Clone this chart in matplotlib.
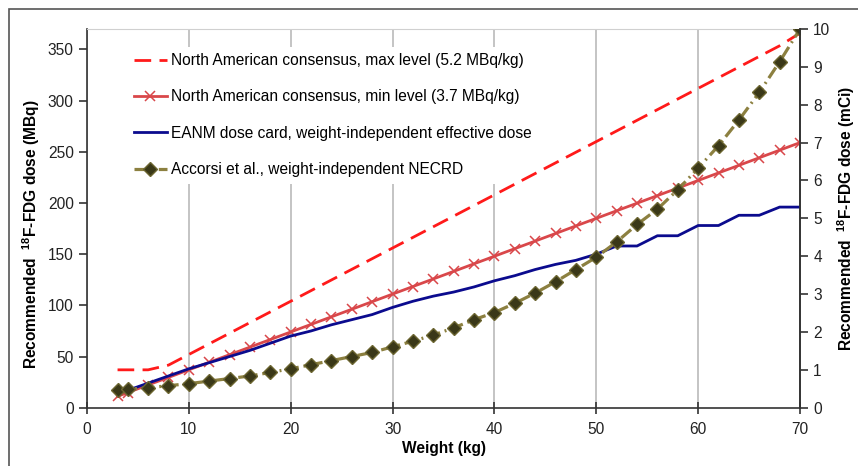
import matplotlib
matplotlib.use('Agg')
import matplotlib.pyplot as plt
from matplotlib.patches import Rectangle

plt.rcParams['font.family'] = ['Liberation Sans', 'DejaVu Sans']
plt.rcParams['mathtext.fontset'] = 'custom'
plt.rcParams['mathtext.rm'] = 'Liberation Sans'
plt.rcParams['mathtext.bf'] = 'Liberation Sans:bold'

# weights (kg)
weight = [3, 4, 6, 8, 10, 12, 14, 16, 18, 20, 22, 24, 26, 28, 30, 32, 34, 36,
          38, 40, 42, 44, 46, 48, 50, 52, 54, 56, 58, 60, 62, 64, 66, 68, 70]

# doses in MBq
na_max = [37, 37, 37, 41.6, 52, 62.4, 72.8, 83.2, 93.6, 104, 114.4, 124.8, 135.2,
          145.6, 156, 166.4, 176.8, 187.2, 197.6, 208, 218.4, 228.8, 239.2, 249.6,
          260, 270.4, 280.8, 291.2, 301.6, 312, 322.4, 332.8, 343.2, 353.6, 366]
na_min = [11.1, 14.8, 22.2, 29.6, 37, 44.4, 51.8, 59.2, 66.6, 74, 81.4, 88.8, 96.2,
          103.6, 111, 118.4, 125.8, 133.2, 140.6, 148, 155.4, 162.8, 170.2, 177.6,
          185, 192.4, 199.8, 207.2, 214.6, 222, 229.4, 236.8, 244.2, 251.6, 259]
eanm = [14, 17, 24, 31, 38, 44, 50, 56, 63, 70, 75, 81, 86, 91, 98, 104, 109, 113,
        118, 124, 129, 135, 140, 144, 150, 158, 158, 168, 168, 178, 178, 188, 188, 196, 196]
accorsi = [17, 18, 19.5, 21.5, 23.5, 26, 28.5, 31, 34.5, 38, 42, 46, 50, 54, 59.5,
           65, 71, 78, 86, 93, 102, 112, 123, 135, 147, 162, 179, 194, 213, 234, 256,
           281, 308, 338, 370]

labels = ['North American consensus, max level (5.2 MBq/kg)',
          'North American consensus, min level (3.7 MBq/kg)',
          'EANM dose card, weight-independent effective dose',
          'Accorsi et al., weight-independent NECRD']

fs = 11.2

fig = plt.figure(figsize=(8.58, 4.66), dpi=100)
ax = fig.add_axes([87/858, 1 - 407.7/466, (800-87)/858, (407.7-29)/466])

# outer frame
fig.patches.append(Rectangle((9/858, -0.1), 1.2, 0.1 + 1 - 9/466, transform=fig.transFigure,
                             fill=False, edgecolor='#555555', lw=1.2))

# lines drawn above the legend box, legend box only hides the grid
ax.plot(weight, na_max, color='#ff1a1a', lw=2, linestyle=(0, (6, 3)), label=labels[0], zorder=12)
ax.plot(weight, na_min, color='#d9474a', lw=2, marker='x', ms=7, mew=1.1, label=labels[1], zorder=12)
ax.plot(weight, eanm, color='#0b0b8e', lw=2, label=labels[2], zorder=12)
ax.plot(weight, accorsi, color='#8c8040', lw=2.3, linestyle=(0, (4, 1.5, 0.6, 1.5)),
        marker='D', ms=7, mfc='#3a3818', mec='#6b6530', mew=1, label=labels[3], zorder=13)

ax.set_xlim(0, 70)
ax.set_ylim(0, 370)
ax.set_xticks(range(0, 71, 10))
ax.set_yticks(range(0, 351, 50))
ax.grid(axis='x', color='#b4b4b4', lw=1.1)
ax.set_axisbelow(True)

for s in ['left', 'bottom', 'right']:
    ax.spines[s].set_color('#333333')
    ax.spines[s].set_linewidth(1.2)
ax.spines['top'].set_color('#d0d0d0')
ax.spines['top'].set_linewidth(0.8)

ax.tick_params(axis='x', direction='inout', length=8, width=1.2, colors='#333333',
               labelsize=fs, labelcolor='#222222', pad=6)
ax.tick_params(axis='y', direction='out', length=6, width=1.2, colors='#333333',
               labelsize=fs, labelcolor='#222222')

ax.set_xlabel('Weight (kg)', fontsize=fs, fontweight='bold', labelpad=3)
ax.set_ylabel(r'Recommended  $^{\mathbf{18}}$F-FDG dose (MBq)', fontsize=fs,
              fontweight='bold')
ax.yaxis.set_label_coords(-0.063, 0.459)

ax2 = ax.twinx()
ax2.set_ylim(0, 10)
ax2.set_yticks(range(0, 11))
ax2.tick_params(axis='y', direction='out', length=6, width=1.2, colors='#333333',
                labelsize=fs, labelcolor='#222222')
for s in ['left', 'bottom', 'top']:
    ax2.spines[s].set_visible(False)
ax2.spines['right'].set_color('#333333')
ax2.spines['right'].set_linewidth(1.2)
ax2.set_ylabel(r'Recommended  $^{\mathbf{18}}$F-FDG dose (mCi)', fontsize=fs,
               fontweight='bold')
ax2.yaxis.set_label_coords(1.05, 0.5)

leg = ax.legend(loc='upper left', bbox_to_anchor=(33/713, 1 - 10/378.7), frameon=True,
                facecolor='white', edgecolor='none', framealpha=1, fontsize=fs,
                handlelength=2.1, handletextpad=0.25, labelspacing=1.38, numpoints=1,
                borderpad=0.4)
leg.set_zorder(5)

fig.savefig('out.png', dpi=100)
